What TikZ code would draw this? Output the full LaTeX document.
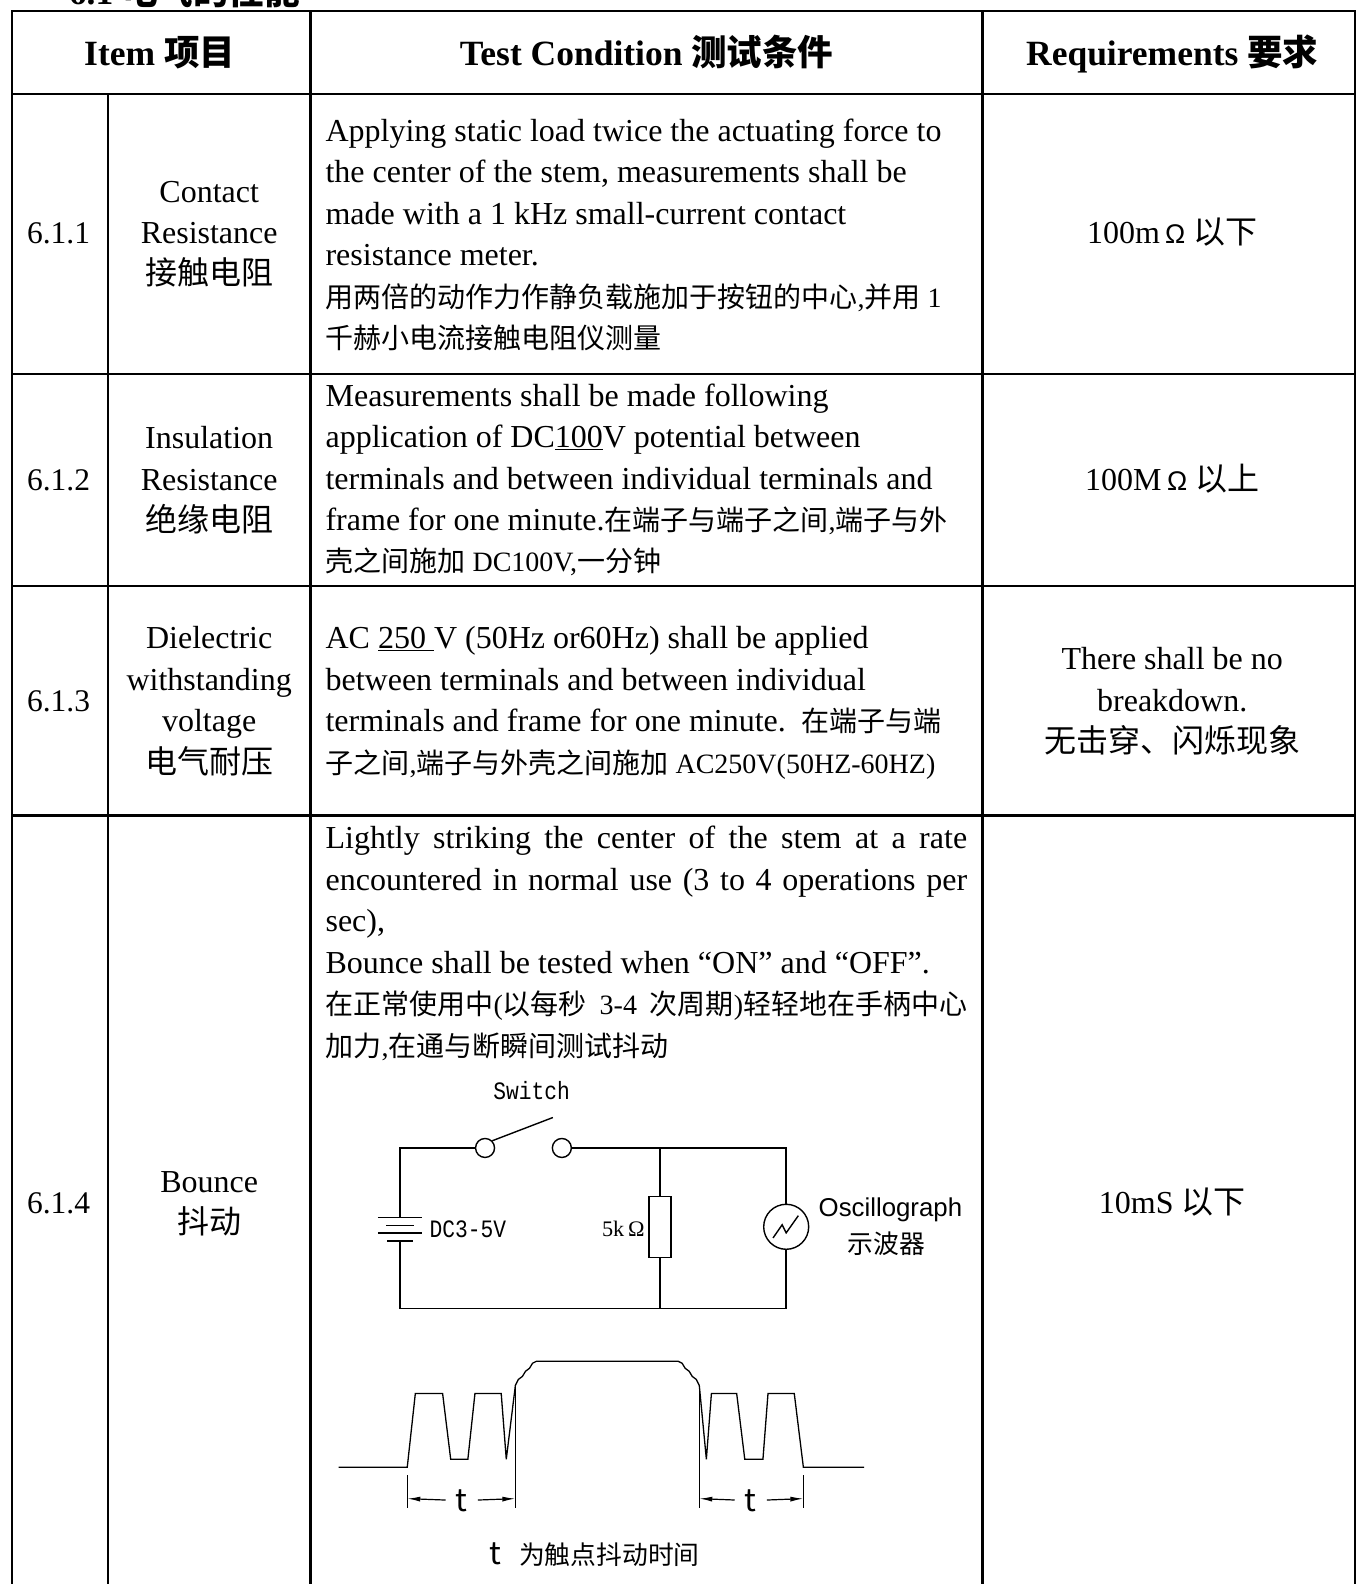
\documentclass[tikz,border=0pt]{standalone}
\usepackage{fontspec}
\setmainfont{Liberation Serif}
\newfontfamily\zhfont{Noto Sans CJK SC}
\newfontfamily\monofont{Liberation Mono}[FakeStretch=0.85]
\newfontfamily\arialfont{Liberation Sans}
\usetikzlibrary{arrows.meta}

\newcommand\zh[1]{{\zhfont #1}}
\newcommand\cnsize{\fontsize{28}{41}\selectfont}
\newcommand\Ohmsym{{\arialfont\fontsize{27}{30}\selectfont Ω}}

\begin{document}
\begin{tikzpicture}[x=1.0105pt, y=-1.0105pt,
  rule/.style={line width=2.6pt},
  wire/.style={line width=1.4pt},
  wave/.style={line width=1.3pt},
  txt/.style={inner sep=0pt, anchor=base west, font=\fontsize{32}{41}\selectfont},
  mid/.style={inner sep=0pt, anchor=base, font=\fontsize{32}{41}\selectfont},
  head/.style={inner sep=0pt, anchor=base, font=\fontsize{35.5}{40}\selectfont\bfseries},
  contact/.style={circle, draw, line width=1.4pt, inner sep=0pt, minimum size=19pt},
  resbox/.style={rectangle, draw, line width=1.4pt, inner sep=0pt, minimum width=22pt, minimum height=61pt},
  meter/.style={circle, draw, line width=1.4pt, inner sep=0pt, minimum size=45pt},
  tsym/.style={inner ysep=0pt, inner xsep=10pt, font=\zhfont\fontsize{31.3}{36}\selectfont},
  dim/.style={line width=1.2pt, -{Latex[length=13pt,width=5pt]}}]

\useasboundingbox (0,0) rectangle (1341,1567.5);

% section title, cut by the page edge
\node[anchor=base west, inner sep=0pt, font=\fontsize{35.5}{40}\selectfont\bfseries] (title) at (68,4) {6.1 \zh{电气的性能}};

% table rules
\draw[rule] (12,1600) -- (12,11) -- (1341,11) -- (1341,1600);
\foreach \y in {93,370,580,807}
  \draw[rule] (12,\y) -- (1341,\y);
\draw[rule] (107,93) -- (107,1600);
\foreach \x in {307,972}
  \draw[rule] (\x,11) -- (\x,1600);

% header
\node[head] (hitem) at (158,65) {Item \zh{项目}};
\node[head] (hcond) at (640,65) {Test Condition \zh{测试条件}};
\node[head] (hreq) at (1160,65) {Requirements \zh{要求}};

% numbers
\node[mid, font=\fontsize{31.5}{41}\selectfont] (n1) at (58,241) {6.1.1};
\node[mid, font=\fontsize{31.5}{41}\selectfont] (n2) at (58,485) {6.1.2};
\node[mid, font=\fontsize{31.5}{41}\selectfont] (n3) at (58,704) {6.1.3};
\node[mid, font=\fontsize{31.5}{41}\selectfont] (n4) at (58,1201) {6.1.4};

% items
\foreach \txt [count=\i] in {Contact, Resistance, {\zh{接触电阻}}}
  \node[mid] (item1-\i) at (207,{200+41*(\i-1)}) {\txt};
\foreach \txt [count=\i] in {Insulation, Resistance, {\zh{绝缘电阻}}}
  \node[mid] (item2-\i) at (207,{444+41*(\i-1)}) {\txt};
\foreach \txt [count=\i] in {Dielectric, withstanding, voltage, {\zh{电气耐压}}}
  \node[mid] (item3-\i) at (207,{642+41*(\i-1)}) {\txt};
\foreach \txt [count=\i] in {Bounce, {\zh{抖动}}}
  \node[mid] (item4-\i) at (207,{1180+41*(\i-1)}) {\txt};

% test conditions
\foreach \txt [count=\i] in {{Applying static load twice the actuating force to},
    {the center of the stem, measurements shall be},
    {made with a 1 kHz small-current contact},
    {resistance meter.},
    {\cnsize\zh{用两倍的动作力作静负载施加于按钮的中心},\zh{并用} 1},
    {\cnsize\zh{千赫小电流接触电阻仪测量}}}
  \node[txt] (cond1-\i) at (322,{140+41*(\i-1)}) {\txt};
\foreach \txt [count=\i] in {{Measurements shall be made following},
    {application of DC\underline{100}V potential between},
    {terminals and between individual terminals and},
    {frame for one minute.{\cnsize\zh{在端子与端子之间},\zh{端子与外}}},
    {\cnsize\zh{壳之间施加} DC100V,\zh{一分钟}}}
  \node[txt] (cond2-\i) at (322,{402+41*(\i-1)}) {\txt};
\foreach \txt [count=\i] in {{AC \underline{250\ }V (50Hz or60Hz) shall be applied},
    {between terminals and between individual},
    {terminals and frame for one minute.\ \ {\cnsize\zh{在端子与端}}},
    {\cnsize\zh{子之间},\zh{端子与外壳之间施加} AC250V(50HZ-60HZ)}}
  \node[txt] (cond3-\i) at (322,{642+41*(\i-1)}) {\txt};
\foreach \txt [count=\i] in {{\makebox[641.5pt][s]{Lightly striking the center of the stem at a rate}},
    {\makebox[641.5pt][s]{encountered in normal use (3 to 4 operations per}},
    {sec),},
    {Bounce shall be tested when “ON” and “OFF”.},
    {\cnsize\makebox[641.5pt][s]{\zh{在正常使用中}(\zh{以每秒} 3-4 \zh{次周期})\zh{轻轻地在手柄中心}}},
    {\cnsize\zh{加力},\zh{在通与断瞬间测试抖动}}}
  \node[txt] (cond4-\i) at (322,{840+41*(\i-1)}) {\txt};

% requirements
\node[mid] (req1) at (1160,241) {100m\,\Ohmsym\ \zh{以下}};
\node[mid] (req2) at (1160,485) {100M\,\Ohmsym\ \zh{以上}};
\foreach \txt [count=\i] in {{There shall be no}, {breakdown.}, {\zh{无击穿、闪烁现象}}}
  \node[mid] (req3-\i) at (1160,{663+41*(\i-1)}) {\txt};
\node[mid] (req4) at (1160,1201) {10mS \zh{以下}};

% bounce test circuit
\coordinate (tl) at (396,1136);
\coordinate (tr) at (778,1136);
\coordinate (bl) at (396,1295);
\coordinate (br) at (778,1295);
\coordinate (rt) at (653,1136);
\coordinate (rb) at (653,1295);
\coordinate (battop) at (396,1205);
\coordinate (batbot) at (396,1228);
\node[contact] (swa) at (480,1136) {};
\node[contact] (swb) at (556,1136) {};
\node[resbox] (res) at (653,1214) {};
\node[meter] (osc) at (778,1214) {};
\draw[wire] (swa) -- (tl) -- (battop);
\draw[wire] (batbot) -- (bl) -- (br) -- (osc);
\draw[wire] (osc) -- (tr) -- (swb);
\draw[wire] (rt) -- (res) -- (rb);
\draw[wire] (swa.45) -- ++(60,-23);
\draw[wire] (374,1205) -- (418,1205);
\draw[wire] (382,1213) -- (410,1213);
\draw[wire] (374,1220) -- (418,1220);
\draw[wire] (383,1228) -- (409,1228);
\draw[wire] ([shift={(-13,11)}]osc.center) -- ++(9,-13) -- ++(4,8) -- ++(12,-17);

\node[anchor=base, inner sep=0pt, font=\monofont\fontsize{25}{28}\selectfont] (swlabel) at (526,1088) {Switch};
\node[anchor=base west, inner sep=0pt, font=\monofont\fontsize{25}{28}\selectfont] (dclabel) at (425,1225) {DC3-5V};
\node[anchor=base east, inner sep=0pt, font=\fontsize{22.2}{24}\selectfont] (reslabel) at (638,1224) {5k\,Ω};
\node[anchor=base west, inner sep=0pt, font=\arialfont\fontsize{25.8}{30}\selectfont] (osclabel) at (810,1204) {Oscillograph};
\node[anchor=base, inner sep=0pt, font=\zhfont\fontsize{25.8}{30}\selectfont] (osczh) at (877,1240) {示波器};

% bounce waveform
\draw[wave] (335,1452) -- (403,1452) -- (411,1379) -- (438,1379) -- (446,1444) -- (463,1444)
  -- (470,1379) -- (496,1379) -- (501,1444) -- (510,1371) -- (513,1365) -- (517,1362)
  -- (520,1357) -- (524,1354) -- (527,1349) -- (531,1347) -- (671,1347) -- (675,1349)
  -- (678,1354) -- (682,1357) -- (685,1362) -- (689,1365) -- (692,1371) -- (699,1444)
  -- (704,1379) -- (729,1379) -- (737,1444) -- (755,1444) -- (760,1379) -- (786,1379)
  -- (795,1452) -- (855,1452);
\draw[wave] (403,1460) -- (403,1492);
\draw[wave] (510,1371) -- (510,1492);
\draw[wave] (692,1371) -- (692,1492);
\draw[wave] (795,1460) -- (795,1492);

\coordinate (d1a) at (403,1483);
\coordinate (d1b) at (510,1483);
\coordinate (d2a) at (692,1483);
\coordinate (d2b) at (795,1483);
\node[tsym] (t1) at (457,1485) {t};
\node[tsym] (t2) at (743,1485) {t};
\draw[dim] (t1) -- (d1a);
\draw[dim] (t1) -- (d1b);
\draw[dim] (t2) -- (d2a);
\draw[dim] (t2) -- (d2b);

\node[anchor=base west, inner sep=0pt, font=\zhfont\fontsize{31.3}{36}\selectfont] (tcap) at (484,1548)
  {t\hspace{18pt}{\fontsize{25.8}{30}\selectfont 为触点抖动时间}};

\end{tikzpicture}
\end{document}
